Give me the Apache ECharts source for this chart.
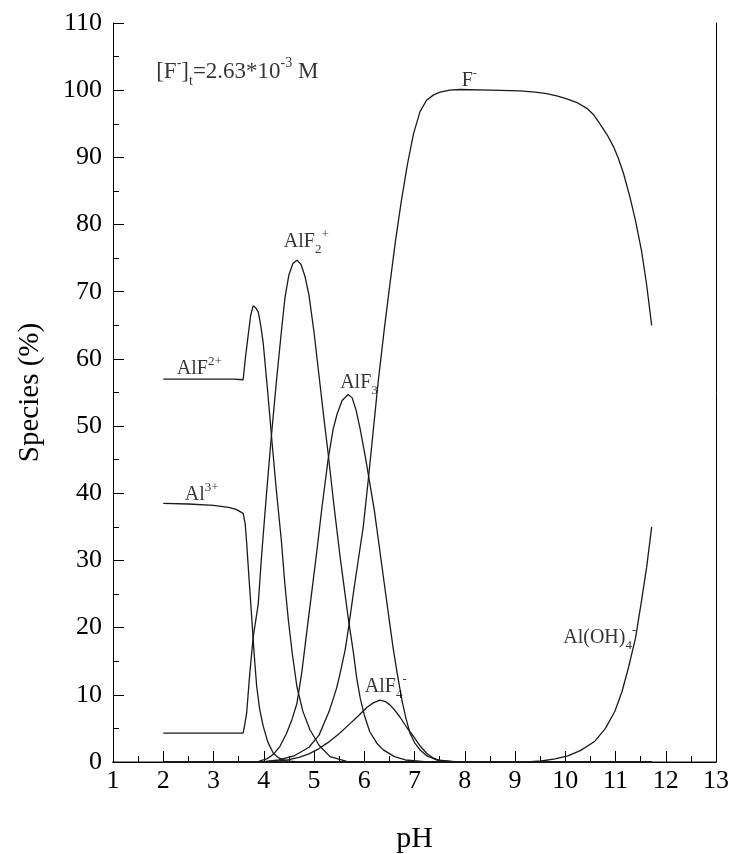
<!DOCTYPE html>
<html><head><meta charset="utf-8">
<script src="https://cdn.jsdelivr.net/npm/echarts@6/dist/echarts.min.js"></script>
<style>html,body{margin:0;padding:0;background:#fff}#c{width:729px;height:854px}</style>
</head><body><div id="c"></div>
<script>
// ---- axes ----
const xMin = 1, xMax = 13, xStep = 1;
const yMin = 0, yMax = 110, yStep = 10;

// ---- series data (pH, % species) ----
const al3_pH  = [2,2.5,3,3.3,3.45,3.59,3.63,3.66,3.71,3.76,3.81,3.86,3.92,3.99,4.08,4.19,4.3,4.45,4.7,5,11.72];
const al3_val = [38.5,38.4,38.2,37.9,37.6,37.0,35.5,32.6,27,21.6,16,11.2,7.8,5.3,3.0,1.3,0.6,0.15,0.02,0,0];

const alf_pH  = [2,2.5,3,3.4,3.59,3.64,3.69,3.74,3.79,3.84,3.89,3.94,3.99,4.08,4.16,4.25,4.35,4.42,4.49,4.57,4.66,4.78,4.92,5.1,5.32,5.65,6,11.72];
const alf_val = [57,57,57,57,56.9,60.5,63.5,66.5,67.9,67.6,67.0,65,62.3,55,48,40.5,33,26.5,21.1,16,11.2,7.5,4.8,2.5,0.8,0.1,0,0];

const alf2_pH  = [2,2.5,3,3.59,3.62,3.66,3.72,3.79,3.89,3.96,4.05,4.14,4.25,4.35,4.42,4.5,4.58,4.66,4.74,4.82,4.9,5.0,5.1,5.2,5.28,5.4,5.52,5.6,5.68,5.78,5.85,5.92,6.0,6.11,6.25,6.38,6.6,6.82,7.2,7.6,11.72];
const alf2_val = [4.3,4.3,4.3,4.3,5.5,7.3,13,18.6,23.5,31,39.5,47.5,56.5,64,69,72.5,74.2,74.7,74.1,72.3,69.5,64,57.5,51,46,38,30.5,26,21.5,16.5,12.5,9.5,7,4.5,2.8,1.8,0.8,0.3,0.05,0,0];

const alf3_pH  = [2,3.6,3.9,4.07,4.2,4.32,4.45,4.56,4.66,4.76,4.85,4.95,5.05,5.16,5.28,5.38,5.46,5.56,5.68,5.76,5.84,5.92,6.02,6.11,6.2,6.3,6.4,6.5,6.58,6.66,6.75,6.83,6.91,7.0,7.11,7.25,7.44,7.8,8.2,11.72];
const alf3_val = [0,0,0.1,0.5,1.2,2.3,4.2,6.3,8.7,13.5,19,25,31,38,45,49.5,51.8,53.8,54.7,54.2,52.3,49.5,45.5,41.5,37.5,32,26.5,21,16.7,13,9.2,6.5,4.3,2.9,1.8,0.9,0.3,0.05,0,0];

const alf4_pH  = [2,4.0,4.3,4.5,4.7,4.9,5.1,5.3,5.5,5.7,5.9,6.05,6.18,6.31,6.42,6.51,6.61,6.71,6.85,6.98,7.1,7.24,7.37,7.5,7.8,11.72];
const alf4_val = [0,0,0.15,0.35,0.7,1.2,2.0,3.0,4.2,5.6,7.0,8.1,8.8,9.2,9.0,8.5,7.7,6.7,5.1,3.8,2.5,1.3,0.6,0.2,0,0];

const f_pH  = [2,3.8,4.0,4.3,4.6,4.9,5.1,5.3,5.45,5.52,5.62,5.68,5.8,5.9,5.98,6.08,6.18,6.28,6.4,6.5,6.62,6.74,6.86,6.98,7.11,7.24,7.38,7.51,7.7,7.9,8.5,9.1,9.4,9.63,9.85,10.03,10.25,10.43,10.57,10.69,10.83,10.96,11.06,11.16,11.29,11.4,11.52,11.62,11.72];
const f_val = [0,0,0.05,0.3,0.9,2.2,4,7.5,11,13.2,16.7,19.6,26,31,35,42,49.4,56.8,64.5,70.5,77.5,83.6,89,93.5,96.8,98.5,99.3,99.7,100,100.1,100,99.9,99.7,99.5,99.1,98.7,98.1,97.3,96.3,95.0,93.4,91.6,89.8,87.6,84,80.5,76,71,65];

const aloh_pH  = [2,9.0,9.3,9.52,9.8,10.05,10.3,10.59,10.8,10.99,11.13,11.26,11.4,11.52,11.62,11.72];
const aloh_val = [0,0,0.05,0.15,0.45,0.9,1.7,3.1,5,7.6,10.5,14.1,18.5,24.1,29,35];

// ---- text labels (pH, %, rich text) ----
const labelPH   = [1.86, 2.27, 2.43, 4.40, 5.52, 6.01, 7.94, 9.96];
const labelVal  = [102.7, 58.5, 39.8, 77.4, 56.4, 11.2, 101.4, 18.5];
const labelText = [
  '{b|[F}{sup|-}{b|]}{sub|t}{b|=2.63*10}{sup|-3}{b| M}',
  '{a|AlF}{sup2|2+}',
  '{a|Al}{sup2|3+}',
  '{a|AlF}{sub2|2}{sup2|+}',
  '{a|AlF}{sub2|3}',
  '{a|AlF}{sub2|4}{sup2|-}',
  '{a|F}{sup2|-}',
  '{a|Al(OH)}{sub2|4}{sup2|-}'
];

const FONT = 'Liberation Serif';
const zip = (xs, ys) => xs.map((x, i) => [x, ys[i]]);
const curves = [
  ['Al3+', al3_pH, al3_val], ['AlF2+', alf_pH, alf_val], ['AlF2 +', alf2_pH, alf2_val],
  ['AlF3', alf3_pH, alf3_val], ['AlF4-', alf4_pH, alf4_val], ['F-', f_pH, f_val],
  ['Al(OH)4-', aloh_pH, aloh_val]
];

const series = curves.map(c => ({
  name: c[0], type: 'line', data: zip(c[1], c[2]), showSymbol: false, symbol: 'none',
  lineStyle: { color: '#1a1a1a', width: 1.3 }, z: 3, silent: true
}));

const txt = (size, extra) => Object.assign({ fontFamily: FONT, fontSize: size, color: '#000', textBorderWidth: 0, textShadowBlur: 0 }, extra || {});
series.push({
  type: 'scatter', symbolSize: 0, silent: true, z: 5,
  data: labelPH.map((x, i) => ({ value: [x, labelVal[i]], label: { formatter: labelText[i] } })),
  label: {
    show: true, position: 'inside', align: 'left', verticalAlign: 'middle', color: '#000',
    textBorderWidth: 0, textBorderColor: 'transparent', textShadowBlur: 0,
    rich: {
      b: txt(23, { lineHeight: 32 }),
      sup: txt(14, { lineHeight: 14, verticalAlign: 'top' }),
      sub: txt(14, { lineHeight: 14, verticalAlign: 'bottom' }),
      a: txt(20, { lineHeight: 28 }),
      sup2: txt(13, { lineHeight: 13, verticalAlign: 'top' }),
      sub2: txt(13, { lineHeight: 13, verticalAlign: 'bottom' })
    }
  }
});

const chart = echarts.init(document.getElementById('c'), null, { renderer: 'canvas' });
chart.setOption({
  animation: false,
  backgroundColor: '#fff',
  grid: { left: 113, right: 13, top: 23, bottom: 92, containLabel: false, outerBoundsMode: 'none' },
  xAxis: [{
    type: 'value', min: xMin, max: xMax, interval: xStep, position: 'bottom',
    axisLine: { show: true, onZero: false, lineStyle: { color: '#8a8a8a', width: 2 } },
    axisTick: { show: true, inside: true, length: 11, lineStyle: { color: '#000', width: 1 } },
    minorTick: { show: true, splitNumber: 2, length: 6, lineStyle: { color: '#000', width: 1 } },
    axisLabel: { fontFamily: FONT, fontSize: 26, color: '#000', margin: 6 },
    splitLine: { show: false },
    name: 'pH', nameLocation: 'middle', nameGap: 62,
    nameTextStyle: { fontFamily: FONT, fontSize: 30, color: '#000' }
  }, {
    type: 'value', min: xMin, max: xMax, position: 'top',
    axisLine: { show: true, lineStyle: { color: '#000', width: 1 } },
    axisTick: { show: false }, axisLabel: { show: false }, splitLine: { show: false }
  }],
  yAxis: [{
    type: 'value', min: yMin, max: yMax, interval: yStep, position: 'left',
    axisLine: { show: true, onZero: false, lineStyle: { color: '#000', width: 1 } },
    axisTick: { show: true, inside: true, length: 11, lineStyle: { color: '#000', width: 1 } },
    minorTick: { show: true, splitNumber: 2, length: 6, lineStyle: { color: '#000', width: 1 } },
    axisLabel: { fontFamily: FONT, fontSize: 26, color: '#000', margin: 11 },
    splitLine: { show: false },
    name: 'Species (%)', nameLocation: 'middle', nameGap: 68,
    nameTextStyle: { fontFamily: FONT, fontSize: 29, color: '#000' }
  }, {
    type: 'value', min: yMin, max: yMax, position: 'right',
    axisLine: { show: true, lineStyle: { color: '#000', width: 1 } },
    axisTick: { show: false }, axisLabel: { show: false }, splitLine: { show: false }
  }],
  series: series
});
</script>
</body></html>
